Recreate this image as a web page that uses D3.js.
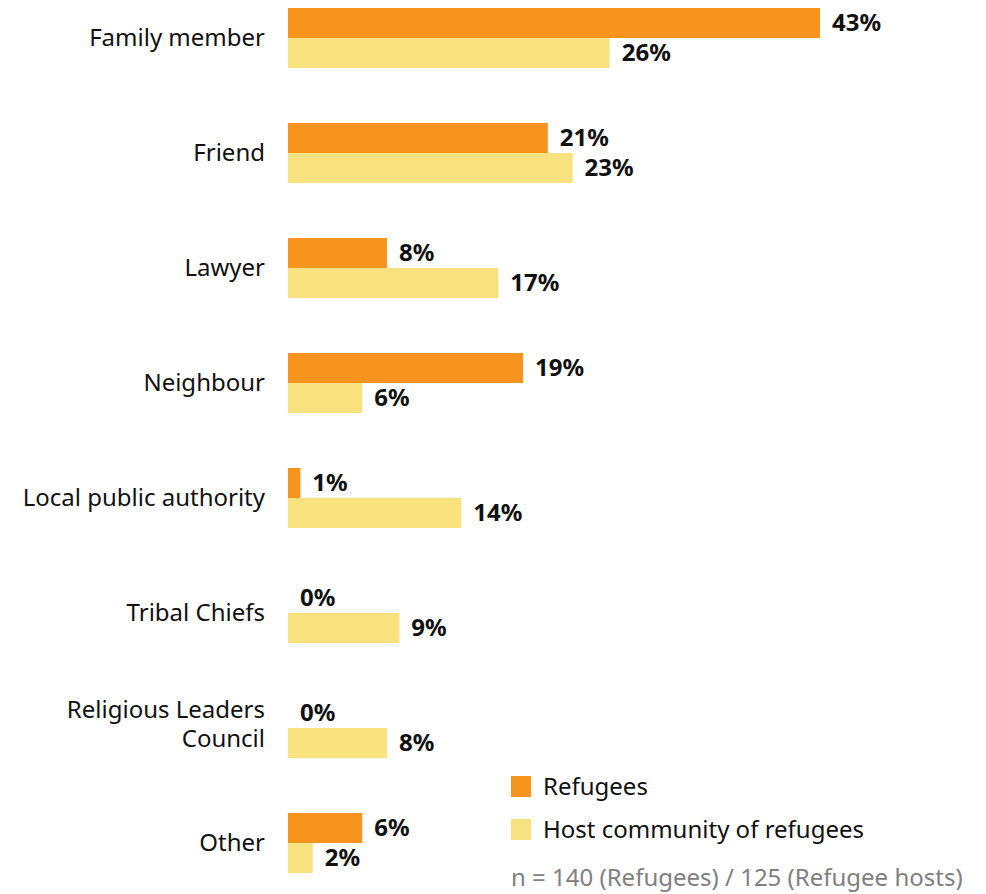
<!DOCTYPE html>
<html>
<head>
<meta charset="utf-8">
<script src="https://cdn.jsdelivr.net/npm/d3@7"></script>
<style>
  html, body { margin: 0; padding: 0; background: #fff; }
  svg { display: block; font-family: "Noto Sans", "Open Sans", sans-serif; }
</style>
</head>
<body>
<svg id="chart" width="986" height="894"></svg>
<script>
// Who respondents turn to, by group (%)
const categories = [
  ["Family member"],
  ["Friend"],
  ["Lawyer"],
  ["Neighbour"],
  ["Local public authority"],
  ["Tribal Chiefs"],
  ["Religious Leaders", "Council"],
  ["Other"]
];
const refugees = [43, 21, 8, 19, 1, 0, 0, 6];
const hostCommunity = [26, 23, 17, 6, 14, 9, 8, 2];
const seriesNames = ["Refugees", "Host community of refugees"];
const seriesColors = ["#F7941D", "#F8E27F"];
const sampleNote = "n = 140 (Refugees) / 125 (Refugee hosts)";

const svg = d3.select("#chart");

const step = 115, barGroup = 60;
const x = d3.scaleLinear().domain([0, 43]).range([288, 820]);
const y = d3.scaleBand()
  .domain(d3.range(categories.length))
  .range([8, 8 + step * categories.length - (step - barGroup)])
  .paddingInner((step - barGroup) / step)
  .paddingOuter(0);
const sub = d3.scaleBand().domain([0, 1]).range([0, y.bandwidth()]);

const rows = categories.map((c, i) => ({
  label: c,
  values: [refugees[i], hostCommunity[i]]
}));

const g = svg.append("g");

const groups = g.selectAll("g.cat")
  .data(rows)
  .join("g")
  .attr("class", "cat")
  .attr("transform", (d, i) => `translate(0,${y(i)})`);

// Category labels
groups.append("text")
  .attr("text-anchor", "end")
  .attr("font-size", 24)
  .attr("fill", "#111")
  .each(function (d) {
    const t = d3.select(this);
    const n = d.label.length;
    const lh = 29;
    d.label.forEach((line, k) => {
      t.append("tspan")
        .attr("x", 265)
        .attr("y", y.bandwidth() / 2 + (k - (n - 1) / 2) * lh - (n > 1 ? 4 : 0))
        .attr("dy", "0.35em")
        .text(line);
    });
  });

// Bars
groups.selectAll("rect")
  .data(d => d.values.map((v, k) => ({ v, k })))
  .join("rect")
  .attr("x", x(0))
  .attr("y", d => sub(d.k))
  .attr("width", d => x(d.v) - x(0))
  .attr("height", sub.bandwidth())
  .attr("fill", d => seriesColors[d.k]);

// Value labels
groups.selectAll("text.val")
  .data(d => d.values.map((v, k) => ({ v, k })))
  .join("text")
  .attr("class", "val")
  .attr("x", d => x(d.v) + 12)
  .attr("y", d => sub(d.k) + sub.bandwidth() / 2)
  .attr("dy", "0.35em")
  .attr("font-size", 24)
  .attr("font-weight", 700)
  .attr("fill", "#111")
  .text(d => d.v + "%");

// Legend
const legend = svg.append("g").attr("transform", "translate(511,776)");
seriesNames.forEach((name, k) => {
  const row = legend.append("g").attr("transform", `translate(0,${k * 43})`);
  row.append("rect").attr("width", 20).attr("height", 21).attr("fill", seriesColors[k]);
  row.append("text")
    .attr("x", 32)
    .attr("y", 10.5)
    .attr("dy", "0.35em")
    .attr("font-size", 24)
    .attr("fill", "#111")
    .text(name);
});

svg.append("text")
  .attr("x", 511)
  .attr("y", 878)
  .attr("dy", "0.35em")
  .attr("font-size", 24)
  .attr("fill", "#808080")
  .text(sampleNote);
</script>
</body>
</html>
